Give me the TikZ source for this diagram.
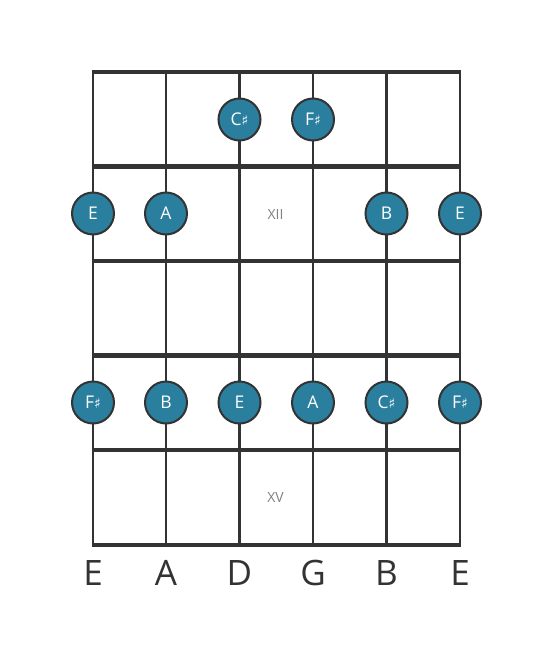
\documentclass[tikz,border=0pt]{standalone}
\usepackage{fontspec}
\setmainfont{Open Sans}
\newfontfamily\symfont{DejaVu Sans}
\usetikzlibrary{positioning}
\definecolor{dotblue}{HTML}{2A7F9E}
\definecolor{darkline}{HTML}{333333}
\newcommand{\shp}{{\symfont\fontsize{14}{14}\selectfont\char"266F}}

\begin{document}
\begin{tikzpicture}[x=1pt, y=-1pt,
	stringline/.style = {draw = darkline, line width = 2.6pt},
	fretline/.style = {draw = darkline, line width = 4.6pt},
	note/.style = {circle, draw = darkline, line width = 2pt, fill = dotblue, minimum size = 42pt, inner sep = 0pt, text = white, font = \fontsize{17.5}{17.5}\selectfont},
	fretno/.style = {text = gray, font = \fontsize{14}{14}\selectfont},
	tuning/.style = {text = darkline, font = \fontsize{35}{35}\selectfont}]
				\useasboundingbox (0,0) rectangle (553,656);
				% strings
				\foreach \s/\x/\t in {1/93/E, 2/166/A, 3/239.5/D, 4/313/G, 5/386.5/B, 6/460/E} {
					\coordinate (top\s) at (\x,72);
					\coordinate (bot\s) at (\x,545);
					\draw[stringline] (top\s) -- (bot\s);
					\node[tuning] (tun\s) at (\x,573) {\t};
				}
				% frets
				\foreach \f/\y in {0/72, 1/166.5, 2/261, 3/355.5, 4/450, 5/545} {
					\coordinate (fl\f) at (91.7,\y);
					\coordinate (fr\f) at (461.3,\y);
					\draw[fretline] (fl\f) -- (fr\f);
				}
				\node[fretno] (xii) at (275.5,214) {XII};
				\node[fretno] (xv) at (275.5,497.5) {XV};
				% notes
				\node[note] (cs1) at (239.5,119.5) {C\shp};
				\node[note] (fs1) at (313,119.5) {F\shp};
				\node[note] (e1) at (93,213.5) {E};
				\node[note] (a1) at (166,213.5) {A};
				\node[note] (b1) at (386.5,213.5) {B};
				\node[note] (e2) at (460,213.5) {E};
				\node[note] (fs2) at (93,402.5) {F\shp};
				\node[note] (b2) at (166,402.5) {B};
				\node[note] (e3) at (239.5,402.5) {E};
				\node[note] (a2) at (313,402.5) {A};
				\node[note] (cs2) at (386.5,402.5) {C\shp};
				\node[note] (fs3) at (460,402.5) {F\shp};
			\end{tikzpicture}
\end{document}
